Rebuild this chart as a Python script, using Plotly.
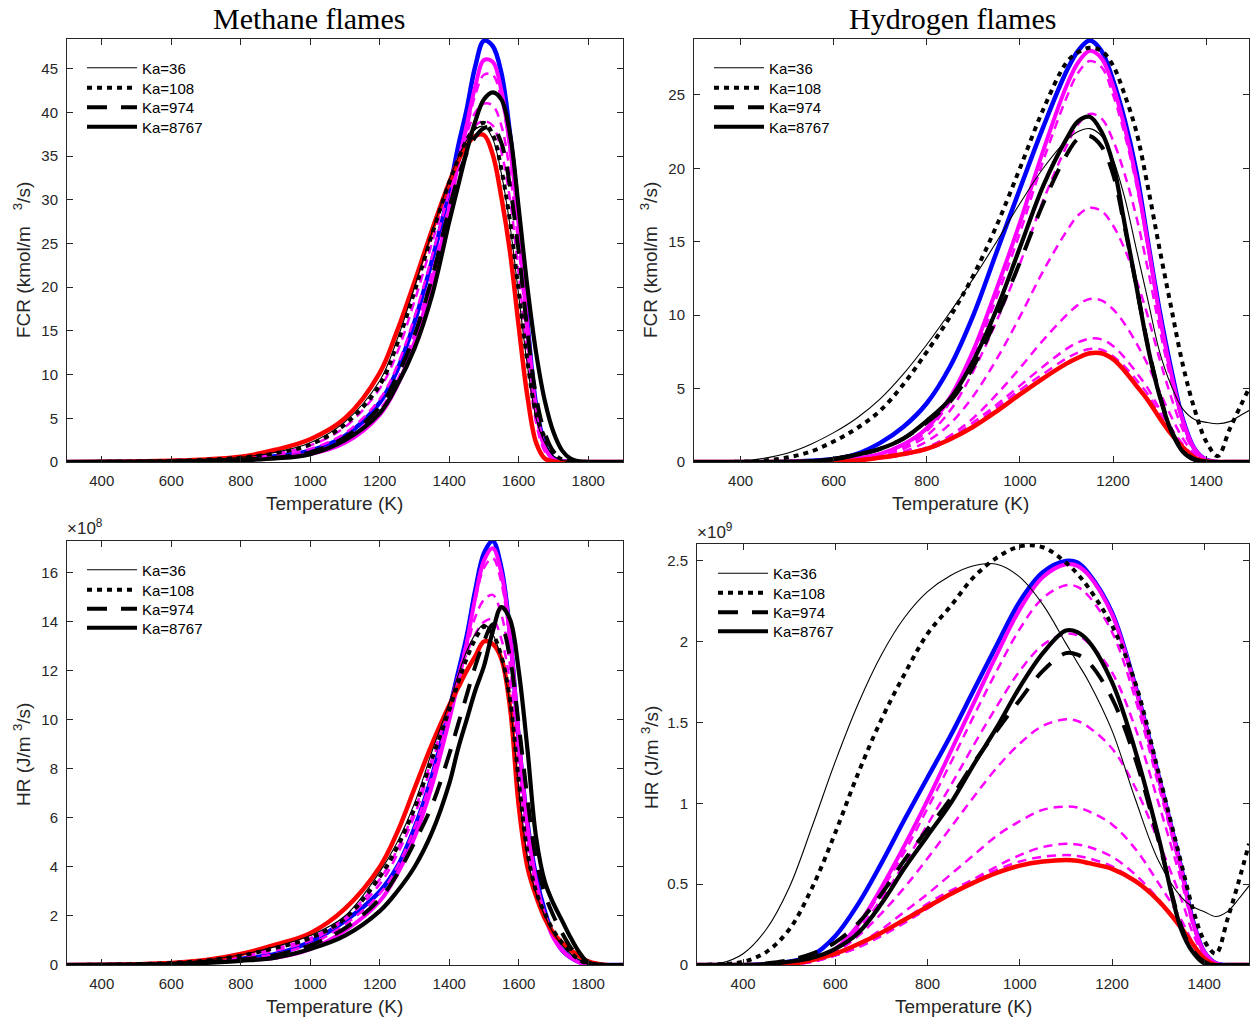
import plotly.graph_objects as go

W, H = 1253, 1023

# ---------------- Methane flames (temperature grid, K) ----------------
T_ch4 = [300, 400, 500, 600, 700, 800, 900, 1000, 1100, 1200, 1250, 1300, 1350, 1400, 1425, 1450,
         1475, 1500, 1525, 1550, 1575, 1600, 1625, 1650, 1675, 1700, 1725, 1750, 1775, 1800, 1850, 1900]

# FCR (kmol/m^3/s)
ch4_fcr_blue = [0, 0.01, 0.03, 0.08, 0.18, 0.35, 0.65, 1.3, 3.0, 6.8, 10.5, 16, 23, 31, 36, 40.3, 45.3, 48.2, 47.6, 44.5, 37.5, 28, 16, 6.5, 2, 0.4, 0.08, 0.01, 0, 0, 0, 0]
ch4_fcr_mag = [0, 0.01, 0.02, 0.05, 0.12, 0.25, 0.45, 0.9, 2.2, 5.4, 8.7, 13.7, 20.6, 29, 34, 38.5, 43, 46, 45.8, 42.5, 36, 27, 15.5, 6, 1.7, 0.3, 0.05, 0, 0, 0, 0, 0]
ch4_fcr_md1 = [0, 0.01, 0.03, 0.07, 0.15, 0.3, 0.55, 1.1, 2.6, 6.0, 9.3, 14.7, 21.6, 29.6, 34, 38, 42, 44.3, 44.3, 41.5, 35.5, 26.5, 15, 6, 1.7, 0.3, 0.05, 0, 0, 0, 0, 0]
ch4_fcr_md2 = [0, 0.01, 0.04, 0.09, 0.2, 0.4, 0.75, 1.5, 3.3, 7.2, 11, 16.6, 23.5, 31, 34.5, 37.5, 40, 41, 40.8, 38.5, 33, 24.5, 14, 5.5, 1.5, 0.3, 0.05, 0, 0, 0, 0, 0]
ch4_fcr_md3 = [0, 0.02, 0.05, 0.12, 0.25, 0.5, 0.95, 1.9, 4.0, 8.4, 12.5, 18.4, 25, 31.8, 34.8, 37, 38.5, 39, 38.5, 35.5, 30, 21.5, 12, 4.5, 1.2, 0.2, 0.03, 0, 0, 0, 0, 0]
ch4_fcr_red = [0, 0.02, 0.06, 0.15, 0.3, 0.6, 1.4, 2.6, 5.0, 10.2, 15.0, 20.6, 26.5, 32.0, 34.4, 36.2, 37.3, 37.4, 35.2, 30.3, 24.0, 15.5, 7.5, 2.2, 0.4, 0.05, 0, 0, 0, 0, 0, 0]
ch4_fcr_ka36 = [0, 0.02, 0.05, 0.13, 0.28, 0.55, 1.1, 2.2, 4.6, 9.3, 14, 20, 26.3, 32.3, 34.8, 36.8, 38.1, 38.4, 37, 33, 27, 19, 11, 5, 2.2, 0.7, 0.2, 0.05, 0, 0, 0, 0]
ch4_fcr_ka108 = [0, 0.02, 0.05, 0.12, 0.25, 0.5, 1.0, 2.0, 4.3, 8.8, 13.5, 19.5, 26, 32, 34.6, 36.8, 38.3, 38.8, 37.5, 33.5, 27.5, 19.5, 11.5, 5.5, 2.8, 1.0, 0.3, 0.05, 0, 0, 0, 0]
ch4_fcr_ka974 = [0, 0.01, 0.03, 0.07, 0.15, 0.28, 0.5, 1.1, 2.8, 6.3, 9.8, 14.5, 21, 29, 32.5, 35.3, 37.2, 38.2, 38.3, 36.5, 31.5, 24, 15, 7.5, 3.3, 1.2, 0.4, 0.1, 0.02, 0, 0, 0]
ch4_fcr_ka8767 = [0, 0.01, 0.02, 0.06, 0.12, 0.22, 0.4, 0.9, 2.5, 5.6, 8.8, 13, 19, 27.5, 31.5, 35.5, 39, 41.5, 42.3, 41.5, 37.5, 29, 20, 12.5, 7, 3.4, 1.3, 0.35, 0.05, 0, 0, 0]

# HR (x 1e8 J/m^3/s)
ch4_hr_blue = [0, 0.005, 0.02, 0.05, 0.12, 0.25, 0.45, 0.95, 1.8, 3.0, 4.0, 5.6, 7.7, 10.4, 11.9, 13.4, 15.3, 16.8, 17.3, 16.2, 13.5, 9.2, 5.8, 3.6, 2.2, 1.2, 0.6, 0.3, 0.12, 0.04, 0, 0]
ch4_hr_mag = [0, 0.005, 0.015, 0.04, 0.1, 0.2, 0.3, 0.65, 1.4, 2.6, 3.7, 5.2, 7.3, 10.0, 11.5, 13.1, 15.0, 16.5, 17.0, 16.0, 13.4, 9.3, 5.7, 3.4, 2.0, 1.1, 0.6, 0.3, 0.1, 0.03, 0, 0]
ch4_hr_md1 = [0, 0.005, 0.02, 0.05, 0.13, 0.27, 0.45, 0.85, 1.65, 2.9, 4.0, 5.6, 7.7, 10.3, 11.8, 13.2, 14.9, 16.2, 16.6, 15.6, 13.0, 9.0, 5.5, 3.3, 2.0, 1.1, 0.6, 0.3, 0.1, 0.03, 0, 0]
ch4_hr_md2 = [0, 0.01, 0.03, 0.07, 0.16, 0.33, 0.6, 1.0, 1.85, 3.3, 4.5, 6.1, 8.2, 10.6, 11.8, 12.9, 14.2, 14.9, 15.1, 14.3, 12.2, 8.5, 5.2, 3.2, 2.0, 1.1, 0.6, 0.3, 0.1, 0.03, 0, 0]
ch4_hr_md3 = [0, 0.01, 0.03, 0.08, 0.18, 0.38, 0.68, 1.1, 1.95, 3.5, 4.7, 6.3, 8.4, 10.6, 11.7, 12.7, 13.5, 14.0, 14.1, 13.3, 11.5, 8.0, 4.9, 3.1, 2.0, 1.1, 0.6, 0.3, 0.1, 0.03, 0, 0]
ch4_hr_red = [0, 0.01, 0.03, 0.08, 0.2, 0.45, 0.83, 1.3, 2.3, 4.0, 5.4, 7.2, 9.0, 10.6, 11.3, 12.0, 12.6, 13.2, 13.1, 12.5, 10.5, 6.5, 4.0, 2.8, 1.9, 1.3, 0.9, 0.6, 0.35, 0.15, 0, 0]
ch4_hr_ka36 = [0, 0.01, 0.03, 0.09, 0.2, 0.42, 0.75, 1.2, 2.0, 3.8, 5.0, 6.6, 8.7, 10.7, 11.8, 12.8, 13.5, 13.9, 13.5, 12.5, 10.6, 7.2, 4.4, 2.9, 2.0, 1.3, 0.8, 0.45, 0.2, 0.05, 0, 0]
ch4_hr_ka108 = [0, 0.01, 0.03, 0.08, 0.18, 0.38, 0.7, 1.1, 1.9, 3.6, 4.8, 6.4, 8.4, 10.4, 11.5, 12.5, 13.3, 13.8, 13.5, 12.6, 10.8, 7.5, 4.6, 3.0, 2.1, 1.4, 0.9, 0.5, 0.2, 0.05, 0, 0]
ch4_hr_ka974 = [0, 0.005, 0.02, 0.05, 0.12, 0.22, 0.4, 0.8, 1.5, 2.7, 3.7, 5.0, 6.5, 8.6, 9.8, 11.0, 12.2, 13.2, 13.9, 13.8, 12.5, 9.8, 6.8, 4.3, 2.9, 2.0, 1.3, 0.7, 0.3, 0.08, 0, 0]
ch4_hr_ka8767 = [0, 0.005, 0.015, 0.04, 0.09, 0.17, 0.3, 0.65, 1.2, 2.2, 3.0, 4.0, 5.4, 7.4, 8.8, 10.0, 11.2, 12.2, 13.6, 14.6, 14.1, 12.0, 8.8, 5.2, 3.4, 2.5, 1.8, 1.1, 0.5, 0.1, 0, 0]

# ---------------- Hydrogen flames ----------------
T_h2_fcr = [300, 400, 450, 500, 550, 600, 650, 700, 750, 800, 850, 900, 950, 1000, 1050, 1100,
            1125, 1150, 1175, 1200, 1225, 1250, 1275, 1300, 1325, 1350, 1375, 1400, 1425, 1450, 1475, 1492]

h2_fcr_blue = [0, 0, 0, 0.02, 0.08, 0.2, 0.55, 1.3, 2.4, 4.0, 6.5, 10.0, 14.3, 18.6, 22.8, 26.6, 28.0, 28.7, 28.0, 26.0, 23.3, 19.8, 15.0, 10.3, 6.3, 2.9, 0.9, 0.15, 0, 0, 0, 0]
h2_fcr_mag = [0, 0, 0, 0.01, 0.04, 0.1, 0.25, 0.55, 1.2, 2.3, 4.4, 7.6, 11.8, 16.3, 21.2, 25.6, 27.2, 28.0, 27.5, 25.6, 22.8, 19.3, 14.8, 10.0, 6.0, 2.8, 0.9, 0.15, 0, 0, 0, 0]
h2_fcr_md1 = [0, 0, 0, 0.01, 0.03, 0.08, 0.2, 0.45, 1.0, 2.1, 4.1, 7.2, 11.2, 15.6, 20.5, 24.8, 26.5, 27.3, 26.9, 25.0, 22.3, 18.9, 14.6, 9.9, 5.9, 2.8, 0.9, 0.15, 0, 0, 0, 0]
h2_fcr_md2 = [0, 0, 0, 0.01, 0.03, 0.08, 0.18, 0.4, 0.9, 1.8, 3.5, 6.2, 9.6, 13.5, 17.8, 21.5, 23.0, 23.7, 23.4, 21.9, 19.6, 16.7, 13.1, 9.1, 5.5, 2.7, 0.9, 0.15, 0, 0, 0, 0]
h2_fcr_md3 = [0, 0, 0, 0.01, 0.03, 0.07, 0.15, 0.32, 0.7, 1.4, 2.6, 4.5, 7.0, 9.9, 13.0, 15.7, 16.8, 17.3, 17.1, 16.1, 14.5, 12.4, 9.9, 7.0, 4.4, 2.2, 0.75, 0.12, 0, 0, 0, 0]
h2_fcr_md4 = [0, 0, 0, 0.01, 0.03, 0.06, 0.13, 0.27, 0.55, 1.0, 1.8, 3.0, 4.6, 6.4, 8.3, 10.0, 10.7, 11.1, 11.0, 10.4, 9.4, 8.1, 6.6, 4.8, 3.1, 1.6, 0.55, 0.1, 0, 0, 0, 0]
h2_fcr_md5 = [0, 0, 0, 0.01, 0.03, 0.06, 0.12, 0.26, 0.5, 0.9, 1.6, 2.7, 3.9, 5.2, 6.5, 7.7, 8.15, 8.4, 8.35, 7.9, 7.1, 6.1, 5.0, 3.6, 2.3, 1.2, 0.4, 0.07, 0, 0, 0, 0]
h2_fcr_md6 = [0, 0, 0, 0.01, 0.03, 0.06, 0.12, 0.25, 0.48, 0.85, 1.5, 2.5, 3.7, 4.9, 6.0, 7.05, 7.45, 7.7, 7.65, 7.2, 6.5, 5.6, 4.6, 3.3, 2.1, 1.1, 0.35, 0.06, 0, 0, 0, 0]
h2_fcr_red = [0, 0, 0, 0, 0.01, 0.03, 0.1, 0.3, 0.55, 0.9, 1.55, 2.4, 3.45, 4.6, 5.7, 6.7, 7.1, 7.4, 7.4, 7.0, 6.2, 5.2, 4.2, 3.0, 1.9, 1.0, 0.3, 0.05, 0, 0, 0, 0]
h2_fcr_ka36 = [0, 0.05, 0.25, 0.6, 1.2, 2.0, 3.0, 4.3, 6.0, 8.0, 10.2, 12.5, 15.0, 17.6, 20.0, 21.9, 22.5, 22.7, 22.2, 20.6, 18.0, 14.5, 11.0, 7.5, 5.2, 3.6, 2.9, 2.7, 2.6, 2.75, 3.2, 3.5]
h2_fcr_ka108 = [0, 0.02, 0.1, 0.3, 0.7, 1.4, 2.3, 3.5, 5.3, 7.5, 9.9, 12.7, 16.1, 20.0, 24.0, 27.2, 27.9, 28.2, 28.0, 27.0, 25.0, 22.5, 18.7, 14.5, 10.5, 6.6, 3.6, 1.4, 0.4, 2.2, 3.9, 5.0]
h2_fcr_ka974 = [0, 0, 0, 0.01, 0.05, 0.2, 0.5, 0.9, 1.6, 2.7, 4.1, 6.5, 9.8, 13.6, 17.6, 20.9, 22.0, 22.2, 21.5, 19.6, 16.0, 12.0, 7.9, 4.6, 2.2, 0.8, 0.2, 0.02, 0, 0, 0, 0]
h2_fcr_ka8767 = [0, 0, 0, 0.01, 0.05, 0.2, 0.5, 0.9, 1.6, 2.8, 4.3, 6.9, 10.4, 14.6, 18.8, 22.0, 23.2, 23.5, 22.5, 20.3, 16.2, 12.0, 7.8, 4.5, 2.1, 0.7, 0.15, 0.02, 0, 0, 0, 0]

T_h2_hr = [300, 350, 400, 450, 500, 550, 600, 650, 700, 750, 800, 850, 900, 950, 1000, 1050,
           1100, 1125, 1150, 1200, 1250, 1300, 1350, 1375, 1400, 1425, 1450, 1475, 1497]

# HR (x 1e9 J/m^3/s)
h2_hr_blue = [0, 0, 0, 0.005, 0.02, 0.06, 0.18, 0.38, 0.63, 0.9, 1.16, 1.42, 1.70, 1.98, 2.25, 2.43, 2.50, 2.49, 2.42, 2.18, 1.73, 1.18, 0.6, 0.28, 0.08, 0.01, 0, 0, 0]
h2_hr_mag = [0, 0, 0, 0, 0.01, 0.03, 0.1, 0.25, 0.48, 0.74, 1.02, 1.32, 1.62, 1.92, 2.2, 2.4, 2.48, 2.47, 2.41, 2.17, 1.72, 1.17, 0.59, 0.27, 0.08, 0.01, 0, 0, 0]
h2_hr_md1 = [0, 0, 0, 0, 0.01, 0.03, 0.1, 0.24, 0.46, 0.7, 0.97, 1.25, 1.54, 1.82, 2.08, 2.27, 2.35, 2.34, 2.28, 2.06, 1.65, 1.12, 0.57, 0.27, 0.08, 0.01, 0, 0, 0]
h2_hr_md2 = [0, 0, 0, 0, 0.01, 0.03, 0.09, 0.22, 0.41, 0.63, 0.87, 1.11, 1.36, 1.6, 1.82, 1.98, 2.05, 2.04, 1.99, 1.81, 1.47, 1.01, 0.52, 0.25, 0.07, 0.01, 0, 0, 0]
h2_hr_md3 = [0, 0, 0, 0, 0.01, 0.03, 0.08, 0.18, 0.32, 0.48, 0.66, 0.85, 1.04, 1.22, 1.37, 1.48, 1.52, 1.51, 1.47, 1.34, 1.1, 0.77, 0.41, 0.2, 0.06, 0.01, 0, 0, 0]
h2_hr_md4 = [0, 0, 0, 0, 0.005, 0.02, 0.06, 0.13, 0.22, 0.33, 0.44, 0.56, 0.68, 0.8, 0.89, 0.96, 0.98, 0.975, 0.95, 0.87, 0.72, 0.51, 0.28, 0.14, 0.04, 0, 0, 0, 0]
h2_hr_md5 = [0, 0, 0, 0, 0.005, 0.02, 0.06, 0.11, 0.18, 0.26, 0.35, 0.44, 0.53, 0.61, 0.68, 0.73, 0.75, 0.745, 0.73, 0.67, 0.56, 0.41, 0.23, 0.12, 0.03, 0, 0, 0, 0]
h2_hr_md6 = [0, 0, 0, 0, 0.005, 0.02, 0.06, 0.11, 0.19, 0.28, 0.38, 0.46, 0.53, 0.59, 0.64, 0.67, 0.68, 0.675, 0.66, 0.61, 0.52, 0.4, 0.22, 0.12, 0.03, 0, 0, 0, 0]
h2_hr_red = [0, 0, 0, 0, 0.005, 0.03, 0.07, 0.13, 0.2, 0.28, 0.36, 0.44, 0.51, 0.57, 0.615, 0.64, 0.65, 0.645, 0.63, 0.595, 0.52, 0.4, 0.23, 0.13, 0.04, 0, 0, 0, 0]
h2_hr_ka36 = [0, 0.01, 0.07, 0.22, 0.48, 0.86, 1.26, 1.62, 1.92, 2.15, 2.31, 2.41, 2.47, 2.48, 2.40, 2.23, 1.99, 1.87, 1.75, 1.45, 1.03, 0.65, 0.42, 0.36, 0.33, 0.30, 0.33, 0.41, 0.49]
h2_hr_ka108 = [0, 0.005, 0.02, 0.08, 0.22, 0.48, 0.82, 1.19, 1.52, 1.80, 2.05, 2.22, 2.40, 2.52, 2.59, 2.585, 2.49, 2.42, 2.33, 2.1, 1.75, 1.2, 0.63, 0.35, 0.15, 0.07, 0.28, 0.52, 0.75]
h2_hr_ka974 = [0, 0, 0, 0.01, 0.03, 0.07, 0.14, 0.26, 0.44, 0.65, 0.84, 1.03, 1.25, 1.45, 1.64, 1.82, 1.93, 1.92, 1.87, 1.65, 1.28, 0.78, 0.24, 0.09, 0.02, 0, 0, 0, 0]
h2_hr_ka8767 = [0, 0, 0, 0.005, 0.02, 0.045, 0.1, 0.2, 0.38, 0.6, 0.8, 1.0, 1.24, 1.47, 1.72, 1.93, 2.07, 2.06, 2.0, 1.75, 1.33, 0.8, 0.22, 0.08, 0.01, 0, 0, 0, 0]

ka_labels = ["Ka=36", "Ka=108", "Ka=974", "Ka=8767"]


# ---------------- helpers: picture pixel -> paper fraction ----------------
def px_x(x):
    return x / W


def px_y(y):
    return 1 - y / H


# ---------------- figure ----------------
fig = go.Figure()

BLUE, RED, MAG, BLK = "#0000FF", "#FF0000", "#FF00FF", "#000000"
MD_DASH = "9px,6px"

# (axis suffix, T, blue, magenta, [magenta dashed], red, [Ka curves], legend x (px), legend item y (px))
panels = [
    ("", T_ch4, ch4_fcr_blue, ch4_fcr_mag, [ch4_fcr_md1, ch4_fcr_md2, ch4_fcr_md3], ch4_fcr_red,
     [ch4_fcr_ka36, ch4_fcr_ka108, ch4_fcr_ka974, ch4_fcr_ka8767], 82, [68, 88, 107.5, 127]),
    ("2", T_h2_fcr, h2_fcr_blue, h2_fcr_mag, [h2_fcr_md1, h2_fcr_md2, h2_fcr_md3, h2_fcr_md4, h2_fcr_md5, h2_fcr_md6],
     h2_fcr_red, [h2_fcr_ka36, h2_fcr_ka108, h2_fcr_ka974, h2_fcr_ka8767], 709, [68, 88, 107.5, 127]),
    ("3", T_ch4, ch4_hr_blue, ch4_hr_mag, [ch4_hr_md1, ch4_hr_md2, ch4_hr_md3], ch4_hr_red,
     [ch4_hr_ka36, ch4_hr_ka108, ch4_hr_ka974, ch4_hr_ka8767], 82, [570, 590, 609, 628]),
    ("4", T_h2_hr, h2_hr_blue, h2_hr_mag, [h2_hr_md1, h2_hr_md2, h2_hr_md3, h2_hr_md4, h2_hr_md5, h2_hr_md6],
     h2_hr_red, [h2_hr_ka36, h2_hr_ka108, h2_hr_ka974, h2_hr_ka8767], 713, [573.5, 593, 612.5, 631.5]),
]

ka_styles = [
    dict(color=BLK, width=1.1),
    dict(color=BLK, width=4, dash="5px,5px"),
    dict(color=BLK, width=4, dash="20px,14px"),
    dict(color=BLK, width=4.2),
]

legfont = dict(family="Liberation Sans, Arial, sans-serif", size=15, color="#000000")
legend_layouts = {}
leg_n = 0
for suf, T, blue, mag, mds, red, kas, lx, lys in panels:
    xa, ya = "x" + suf, "y" + suf
    common = dict(xaxis=xa, yaxis=ya, mode="lines", line_shape="spline", hoverinfo="skip")
    fig.add_trace(go.Scatter(x=T, y=blue, line=dict(color=BLUE, width=4.5), showlegend=False, **common))
    fig.add_trace(go.Scatter(x=T, y=mag, line=dict(color=MAG, width=4), showlegend=False, **common))
    for md in mds:
        fig.add_trace(go.Scatter(x=T, y=md, line=dict(color=MAG, width=2.5, dash=MD_DASH), showlegend=False, **common))
    fig.add_trace(go.Scatter(x=T, y=red, line=dict(color=RED, width=4.5), showlegend=False, **common))
    for lab, ys, st, ly in zip(ka_labels, kas, ka_styles, lys):
        leg_n += 1
        lid = "legend" if leg_n == 1 else "legend%d" % leg_n
        fig.add_trace(go.Scatter(x=T, y=ys, line=st, name=lab, legend=lid, showlegend=True, **common))
        legend_layouts[lid] = dict(bgcolor="rgba(255,255,255,0)", borderwidth=0, font=legfont,
                                   xanchor="left", yanchor="middle", itemwidth=50,
                                   x=px_x(lx), y=px_y(ly))

AX = "#262626"
tickfont = dict(family="Liberation Sans, Arial, sans-serif", size=15, color=AX)
axis_common = dict(showline=True, linecolor=AX, linewidth=1, mirror="ticks", ticks="inside",
                   ticklen=6, tickcolor=AX, tickwidth=1, tickfont=tickfont, showgrid=False,
                   zeroline=False, automargin=False, ticklabelstandoff=5)

boxes = {
    "": (67, 623, 39, 462),
    "2": (694, 1249, 39, 462),
    "3": (67, 623, 541, 965),
    "4": (697, 1249, 544, 965),
}
xranges = {"": [300, 1900], "2": [300, 1492], "3": [300, 1900], "4": [300, 1497]}
yranges = {"": [0, 48.4], "2": [0, 28.8], "3": [0, 17.3], "4": [0, 2.605]}
xticks = {"": list(range(400, 1801, 200)), "2": list(range(400, 1401, 200)),
          "3": list(range(400, 1801, 200)), "4": list(range(400, 1401, 200))}
yticks = {"": (list(range(0, 46, 5)), None), "2": (list(range(0, 26, 5)), None),
          "3": (list(range(0, 17, 2)), None),
          "4": ([0, 0.5, 1, 1.5, 2, 2.5], ["0", "0.5", "1", "1.5", "2", "2.5"])}

layout = {}
for suf, (x0, x1, y0, y1) in boxes.items():
    ykey = "y" + suf
    layout["xaxis" + suf] = dict(axis_common, domain=[px_x(x0), px_x(x1)], range=xranges[suf],
                                 tickvals=xticks[suf], anchor=ykey)
    tv, tt = yticks[suf]
    yd = dict(axis_common, domain=[px_y(y1), px_y(y0)], range=yranges[suf], tickvals=tv,
              anchor="x" + suf)
    if tt:
        yd["ticktext"] = tt
    layout["yaxis" + suf] = yd
layout.update(legend_layouts)

NB = "\u00a0"
ann = []
titlefont = dict(family="Liberation Serif, Times New Roman, serif", size=30, color="#000000")
ann.append(dict(text="Methane flames", x=px_x(309), y=px_y(19), font=titlefont))
ann.append(dict(text="Hydrogen flames", x=px_x(952), y=px_y(19), font=titlefont))
labfont = dict(family="Liberation Sans, Arial, sans-serif", size=19, color=AX)
for xc, yc in [(334, 503), (960, 503), (334, 1006), (963, 1006)]:
    ann.append(dict(text="Temperature (K)", x=px_x(xc), y=px_y(yc), font=labfont))
fcr_label = "FCR (kmol/m" + NB * 3 + "<sup>3</sup>/s)"
hr_label = "HR (J/m" + NB + "<sup>3</sup>/s)"
ann.append(dict(text=fcr_label, x=px_x(22), y=px_y(260), font=labfont, textangle=-90))
ann.append(dict(text=fcr_label, x=px_x(649), y=px_y(260), font=labfont, textangle=-90))
ann.append(dict(text=hr_label, x=px_x(22), y=px_y(755), font=labfont, textangle=-90))
ann.append(dict(text=hr_label, x=px_x(650), y=px_y(757), font=labfont, textangle=-90))
expfont = dict(family="Liberation Sans, Arial, sans-serif", size=17, color=AX)
ann.append(dict(text="\u00d710<sup>8</sup>", x=px_x(65), y=px_y(527), font=expfont, xanchor="left"))
ann.append(dict(text="\u00d710<sup>9</sup>", x=px_x(695), y=px_y(531), font=expfont, xanchor="left"))
for a in ann:
    a.update(xref="paper", yref="paper", showarrow=False)
    a.setdefault("xanchor", "center")
    a.setdefault("yanchor", "middle")

fig.update_layout(
    width=W, height=H,
    margin=dict(l=0, r=0, t=0, b=0),
    paper_bgcolor="white", plot_bgcolor="white",
    annotations=ann,
    **layout,
)

# no mode bar; remove the page's default body margin so the figure sits at the window's top-left corner
fig.write_html("out.html", config={"displayModeBar": False},
               post_script="document.body.style.margin='0px';")
